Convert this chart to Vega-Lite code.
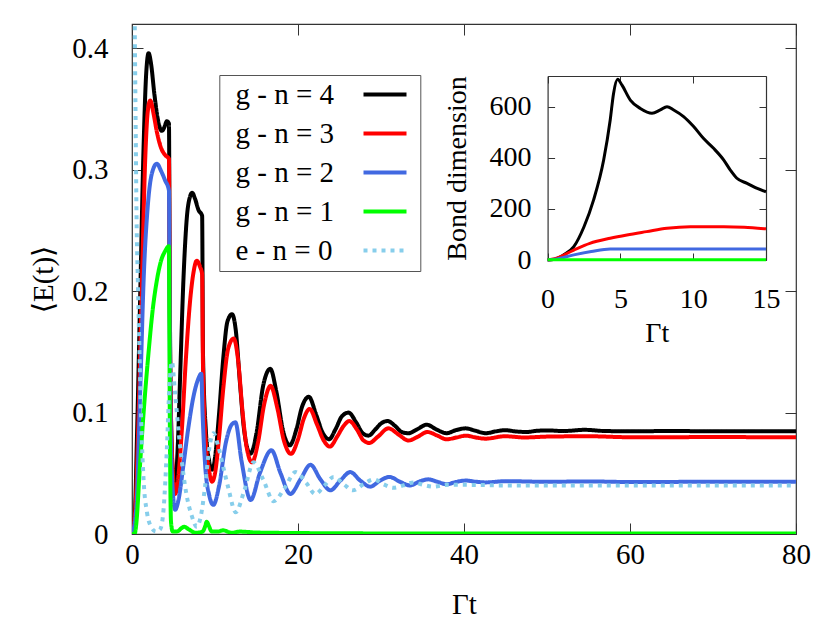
{
  "$schema": "https://vega.github.io/schema/vega-lite/v6.json",
  "width": 664,
  "height": 510,
  "autosize": {"type": "none"},
  "padding": {"left": 132, "top": 24, "right": 34, "bottom": 97},
  "datasets": {
    "main": [
      {"series": "g - n = 4", "t": 0, "E": 0}, {"series": "g - n = 4", "t": 0.3, "E": 0.01}, {"series": "g - n = 4", "t": 0.6, "E": 0.08},
      {"series": "g - n = 4", "t": 1.0, "E": 0.2}, {"series": "g - n = 4", "t": 1.4, "E": 0.32}, {"series": "g - n = 4", "t": 1.7, "E": 0.378},
      {"series": "g - n = 4", "t": 2.0, "E": 0.396}, {"series": "g - n = 4", "t": 2.3, "E": 0.387}, {"series": "g - n = 4", "t": 2.7, "E": 0.362},
      {"series": "g - n = 4", "t": 3.1, "E": 0.342}, {"series": "g - n = 4", "t": 3.6, "E": 0.332}, {"series": "g - n = 4", "t": 3.9, "E": 0.335},
      {"series": "g - n = 4", "t": 4.2, "E": 0.34}, {"series": "g - n = 4", "t": 4.45, "E": 0.338}, {"series": "g - n = 4", "t": 4.55, "E": 0.2},
      {"series": "g - n = 4", "t": 4.75, "E": 0.08}, {"series": "g - n = 4", "t": 5.0, "E": 0.045}, {"series": "g - n = 4", "t": 5.2, "E": 0.042},
      {"series": "g - n = 4", "t": 5.5, "E": 0.07}, {"series": "g - n = 4", "t": 5.8, "E": 0.13}, {"series": "g - n = 4", "t": 6.2, "E": 0.21},
      {"series": "g - n = 4", "t": 6.6, "E": 0.26}, {"series": "g - n = 4", "t": 7.0, "E": 0.278}, {"series": "g - n = 4", "t": 7.25, "E": 0.281},
      {"series": "g - n = 4", "t": 7.6, "E": 0.276}, {"series": "g - n = 4", "t": 8.0, "E": 0.267}, {"series": "g - n = 4", "t": 8.45, "E": 0.262},
      {"series": "g - n = 4", "t": 8.55, "E": 0.15}, {"series": "g - n = 4", "t": 8.9, "E": 0.085}, {"series": "g - n = 4", "t": 9.3, "E": 0.06},
      {"series": "g - n = 4", "t": 9.65, "E": 0.053}, {"series": "g - n = 4", "t": 10.0, "E": 0.063}, {"series": "g - n = 4", "t": 10.5, "E": 0.1},
      {"series": "g - n = 4", "t": 11.0, "E": 0.145}, {"series": "g - n = 4", "t": 11.5, "E": 0.175}, {"series": "g - n = 4", "t": 12.05, "E": 0.181},
      {"series": "g - n = 4", "t": 12.5, "E": 0.168}, {"series": "g - n = 4", "t": 13.0, "E": 0.125}, {"series": "g - n = 4", "t": 13.5, "E": 0.086},
      {"series": "g - n = 4", "t": 14.25, "E": 0.066}, {"series": "g - n = 4", "t": 15.0, "E": 0.083}, {"series": "g - n = 4", "t": 15.8, "E": 0.122},
      {"series": "g - n = 4", "t": 16.66, "E": 0.136}, {"series": "g - n = 4", "t": 17.4, "E": 0.117}, {"series": "g - n = 4", "t": 18.2, "E": 0.085},
      {"series": "g - n = 4", "t": 19.0, "E": 0.073}, {"series": "g - n = 4", "t": 19.8, "E": 0.086}, {"series": "g - n = 4", "t": 20.5, "E": 0.105},
      {"series": "g - n = 4", "t": 21.3, "E": 0.113}, {"series": "g - n = 4", "t": 22.2, "E": 0.098}, {"series": "g - n = 4", "t": 23.0, "E": 0.083},
      {"series": "g - n = 4", "t": 23.75, "E": 0.078}, {"series": "g - n = 4", "t": 24.5, "E": 0.086}, {"series": "g - n = 4", "t": 25.3, "E": 0.097},
      {"series": "g - n = 4", "t": 26.1, "E": 0.1}, {"series": "g - n = 4", "t": 27.0, "E": 0.092}, {"series": "g - n = 4", "t": 27.8, "E": 0.083},
      {"series": "g - n = 4", "t": 28.5, "E": 0.081}, {"series": "g - n = 4", "t": 29.3, "E": 0.086}, {"series": "g - n = 4", "t": 30.0, "E": 0.091},
      {"series": "g - n = 4", "t": 30.8, "E": 0.093}, {"series": "g - n = 4", "t": 31.7, "E": 0.089}, {"series": "g - n = 4", "t": 32.5, "E": 0.084},
      {"series": "g - n = 4", "t": 33.3, "E": 0.083}, {"series": "g - n = 4", "t": 34.3, "E": 0.086}, {"series": "g - n = 4", "t": 35.5, "E": 0.09},
      {"series": "g - n = 4", "t": 36.7, "E": 0.086}, {"series": "g - n = 4", "t": 37.9, "E": 0.083}, {"series": "g - n = 4", "t": 39.0, "E": 0.0855},
      {"series": "g - n = 4", "t": 40.2, "E": 0.087}, {"series": "g - n = 4", "t": 41.4, "E": 0.085}, {"series": "g - n = 4", "t": 42.6, "E": 0.083},
      {"series": "g - n = 4", "t": 43.8, "E": 0.0845}, {"series": "g - n = 4", "t": 44.9, "E": 0.0855}, {"series": "g - n = 4", "t": 46.2, "E": 0.0845},
      {"series": "g - n = 4", "t": 47.5, "E": 0.084}, {"series": "g - n = 4", "t": 48.8, "E": 0.085}, {"series": "g - n = 4", "t": 50, "E": 0.0853},
      {"series": "g - n = 4", "t": 52, "E": 0.0848}, {"series": "g - n = 4", "t": 54.5, "E": 0.0858}, {"series": "g - n = 4", "t": 57, "E": 0.0848},
      {"series": "g - n = 4", "t": 60, "E": 0.0846}, {"series": "g - n = 4", "t": 65, "E": 0.0848}, {"series": "g - n = 4", "t": 70, "E": 0.0846},
      {"series": "g - n = 4", "t": 75, "E": 0.0847}, {"series": "g - n = 4", "t": 80, "E": 0.0846},

      {"series": "g - n = 3", "t": 0, "E": 0}, {"series": "g - n = 3", "t": 0.4, "E": 0.02}, {"series": "g - n = 3", "t": 0.8, "E": 0.1},
      {"series": "g - n = 3", "t": 1.2, "E": 0.209}, {"series": "g - n = 3", "t": 1.6, "E": 0.31}, {"series": "g - n = 3", "t": 1.9, "E": 0.348},
      {"series": "g - n = 3", "t": 2.2, "E": 0.357}, {"series": "g - n = 3", "t": 2.6, "E": 0.346}, {"series": "g - n = 3", "t": 3.0, "E": 0.331},
      {"series": "g - n = 3", "t": 3.5, "E": 0.318}, {"series": "g - n = 3", "t": 4.0, "E": 0.312}, {"series": "g - n = 3", "t": 4.45, "E": 0.309},
      {"series": "g - n = 3", "t": 4.55, "E": 0.18}, {"series": "g - n = 3", "t": 4.8, "E": 0.07}, {"series": "g - n = 3", "t": 5.2, "E": 0.033},
      {"series": "g - n = 3", "t": 5.5, "E": 0.042}, {"series": "g - n = 3", "t": 6.0, "E": 0.085}, {"series": "g - n = 3", "t": 6.5, "E": 0.145},
      {"series": "g - n = 3", "t": 7.0, "E": 0.192}, {"series": "g - n = 3", "t": 7.4, "E": 0.215}, {"series": "g - n = 3", "t": 7.8, "E": 0.225},
      {"series": "g - n = 3", "t": 8.2, "E": 0.22}, {"series": "g - n = 3", "t": 8.45, "E": 0.214}, {"series": "g - n = 3", "t": 8.55, "E": 0.14},
      {"series": "g - n = 3", "t": 8.9, "E": 0.075}, {"series": "g - n = 3", "t": 9.3, "E": 0.052}, {"series": "g - n = 3", "t": 9.65, "E": 0.043},
      {"series": "g - n = 3", "t": 10.0, "E": 0.05}, {"series": "g - n = 3", "t": 10.5, "E": 0.08}, {"series": "g - n = 3", "t": 11.0, "E": 0.12},
      {"series": "g - n = 3", "t": 11.6, "E": 0.153}, {"series": "g - n = 3", "t": 12.25, "E": 0.161}, {"series": "g - n = 3", "t": 12.8, "E": 0.142},
      {"series": "g - n = 3", "t": 13.3, "E": 0.102}, {"series": "g - n = 3", "t": 13.8, "E": 0.072}, {"series": "g - n = 3", "t": 14.46, "E": 0.059},
      {"series": "g - n = 3", "t": 15.2, "E": 0.076}, {"series": "g - n = 3", "t": 15.9, "E": 0.106}, {"series": "g - n = 3", "t": 16.7, "E": 0.122},
      {"series": "g - n = 3", "t": 17.5, "E": 0.104}, {"series": "g - n = 3", "t": 18.3, "E": 0.077}, {"series": "g - n = 3", "t": 19.15, "E": 0.066},
      {"series": "g - n = 3", "t": 20.0, "E": 0.078}, {"series": "g - n = 3", "t": 20.7, "E": 0.095}, {"series": "g - n = 3", "t": 21.4, "E": 0.103},
      {"series": "g - n = 3", "t": 22.3, "E": 0.09}, {"series": "g - n = 3", "t": 23.1, "E": 0.077}, {"series": "g - n = 3", "t": 23.85, "E": 0.072},
      {"series": "g - n = 3", "t": 24.7, "E": 0.08}, {"series": "g - n = 3", "t": 25.5, "E": 0.089}, {"series": "g - n = 3", "t": 26.2, "E": 0.093},
      {"series": "g - n = 3", "t": 27.1, "E": 0.086}, {"series": "g - n = 3", "t": 27.9, "E": 0.077}, {"series": "g - n = 3", "t": 28.6, "E": 0.075},
      {"series": "g - n = 3", "t": 29.6, "E": 0.08}, {"series": "g - n = 3", "t": 30.9, "E": 0.087}, {"series": "g - n = 3", "t": 32.1, "E": 0.082},
      {"series": "g - n = 3", "t": 33.3, "E": 0.077}, {"series": "g - n = 3", "t": 34.4, "E": 0.08}, {"series": "g - n = 3", "t": 35.6, "E": 0.084},
      {"series": "g - n = 3", "t": 36.8, "E": 0.081}, {"series": "g - n = 3", "t": 37.9, "E": 0.078}, {"series": "g - n = 3", "t": 39.1, "E": 0.0795},
      {"series": "g - n = 3", "t": 40.2, "E": 0.081}, {"series": "g - n = 3", "t": 41.4, "E": 0.0795}, {"series": "g - n = 3", "t": 42.6, "E": 0.0785},
      {"series": "g - n = 3", "t": 44.9, "E": 0.0805}, {"series": "g - n = 3", "t": 47.3, "E": 0.0795}, {"series": "g - n = 3", "t": 50, "E": 0.0802},
      {"series": "g - n = 3", "t": 55, "E": 0.0805}, {"series": "g - n = 3", "t": 60, "E": 0.0797}, {"series": "g - n = 3", "t": 70, "E": 0.0798},
      {"series": "g - n = 3", "t": 80, "E": 0.0797},

      {"series": "g - n = 2", "t": 0, "E": 0}, {"series": "g - n = 2", "t": 0.5, "E": 0.02}, {"series": "g - n = 2", "t": 1.0, "E": 0.12},
      {"series": "g - n = 2", "t": 1.4, "E": 0.209}, {"series": "g - n = 2", "t": 1.9, "E": 0.27}, {"series": "g - n = 2", "t": 2.4, "E": 0.297},
      {"series": "g - n = 2", "t": 3.0, "E": 0.305}, {"series": "g - n = 2", "t": 3.5, "E": 0.299}, {"series": "g - n = 2", "t": 4.0, "E": 0.291},
      {"series": "g - n = 2", "t": 4.45, "E": 0.283}, {"series": "g - n = 2", "t": 4.55, "E": 0.16}, {"series": "g - n = 2", "t": 4.8, "E": 0.05},
      {"series": "g - n = 2", "t": 5.2, "E": 0.02}, {"series": "g - n = 2", "t": 5.6, "E": 0.028}, {"series": "g - n = 2", "t": 6.2, "E": 0.057},
      {"series": "g - n = 2", "t": 6.8, "E": 0.088}, {"series": "g - n = 2", "t": 7.4, "E": 0.113}, {"series": "g - n = 2", "t": 8.0, "E": 0.128},
      {"series": "g - n = 2", "t": 8.35, "E": 0.132}, {"series": "g - n = 2", "t": 8.5, "E": 0.1}, {"series": "g - n = 2", "t": 8.8, "E": 0.058},
      {"series": "g - n = 2", "t": 9.3, "E": 0.032}, {"series": "g - n = 2", "t": 9.8, "E": 0.024}, {"series": "g - n = 2", "t": 10.5, "E": 0.04},
      {"series": "g - n = 2", "t": 11.3, "E": 0.075}, {"series": "g - n = 2", "t": 12.0, "E": 0.09}, {"series": "g - n = 2", "t": 12.45, "E": 0.092},
      {"series": "g - n = 2", "t": 13.2, "E": 0.06}, {"series": "g - n = 2", "t": 14.3, "E": 0.028}, {"series": "g - n = 2", "t": 15.4, "E": 0.05},
      {"series": "g - n = 2", "t": 16.8, "E": 0.069}, {"series": "g - n = 2", "t": 17.9, "E": 0.05}, {"series": "g - n = 2", "t": 19.07, "E": 0.033},
      {"series": "g - n = 2", "t": 20.3, "E": 0.045}, {"series": "g - n = 2", "t": 21.5, "E": 0.057}, {"series": "g - n = 2", "t": 22.7, "E": 0.045},
      {"series": "g - n = 2", "t": 23.9, "E": 0.036}, {"series": "g - n = 2", "t": 25.1, "E": 0.044}, {"series": "g - n = 2", "t": 26.3, "E": 0.051},
      {"series": "g - n = 2", "t": 27.5, "E": 0.044}, {"series": "g - n = 2", "t": 28.7, "E": 0.039}, {"series": "g - n = 2", "t": 29.9, "E": 0.044},
      {"series": "g - n = 2", "t": 31.0, "E": 0.047}, {"series": "g - n = 2", "t": 32.3, "E": 0.043}, {"series": "g - n = 2", "t": 33.5, "E": 0.04},
      {"series": "g - n = 2", "t": 34.6, "E": 0.0432}, {"series": "g - n = 2", "t": 35.7, "E": 0.045}, {"series": "g - n = 2", "t": 36.8, "E": 0.043},
      {"series": "g - n = 2", "t": 37.9, "E": 0.041}, {"series": "g - n = 2", "t": 39.0, "E": 0.0428}, {"series": "g - n = 2", "t": 40.2, "E": 0.044},
      {"series": "g - n = 2", "t": 41.5, "E": 0.043}, {"series": "g - n = 2", "t": 42.6, "E": 0.0425}, {"series": "g - n = 2", "t": 45, "E": 0.0435},
      {"series": "g - n = 2", "t": 50, "E": 0.043}, {"series": "g - n = 2", "t": 55, "E": 0.0433}, {"series": "g - n = 2", "t": 60, "E": 0.0428},
      {"series": "g - n = 2", "t": 70, "E": 0.043}, {"series": "g - n = 2", "t": 80, "E": 0.043},

      {"series": "g - n = 1", "t": 0, "E": 0}, {"series": "g - n = 1", "t": 0.3, "E": 0}, {"series": "g - n = 1", "t": 0.6, "E": 0.015},
      {"series": "g - n = 1", "t": 0.85, "E": 0.044}, {"series": "g - n = 1", "t": 1.4, "E": 0.1}, {"series": "g - n = 1", "t": 2.0, "E": 0.15},
      {"series": "g - n = 1", "t": 2.5, "E": 0.185}, {"series": "g - n = 1", "t": 3.0, "E": 0.209}, {"series": "g - n = 1", "t": 3.5, "E": 0.225},
      {"series": "g - n = 1", "t": 4.0, "E": 0.233}, {"series": "g - n = 1", "t": 4.45, "E": 0.237}, {"series": "g - n = 1", "t": 4.55, "E": 0.1},
      {"series": "g - n = 1", "t": 4.7, "E": 0.01}, {"series": "g - n = 1", "t": 4.9, "E": 0.002}, {"series": "g - n = 1", "t": 5.4, "E": 0.002},
      {"series": "g - n = 1", "t": 6.0, "E": 0.005}, {"series": "g - n = 1", "t": 6.3, "E": 0.006}, {"series": "g - n = 1", "t": 6.8, "E": 0.004},
      {"series": "g - n = 1", "t": 7.7, "E": 0.001}, {"series": "g - n = 1", "t": 8.5, "E": 0.002}, {"series": "g - n = 1", "t": 8.8, "E": 0.006},
      {"series": "g - n = 1", "t": 9.0, "E": 0.01}, {"series": "g - n = 1", "t": 9.3, "E": 0.006}, {"series": "g - n = 1", "t": 9.6, "E": 0.002},
      {"series": "g - n = 1", "t": 10.3, "E": 0.002}, {"series": "g - n = 1", "t": 11.0, "E": 0.003}, {"series": "g - n = 1", "t": 12, "E": 0.001},
      {"series": "g - n = 1", "t": 13, "E": 0.002}, {"series": "g - n = 1", "t": 15, "E": 0.0012}, {"series": "g - n = 1", "t": 20, "E": 0.0008},
      {"series": "g - n = 1", "t": 30, "E": 0.0005}, {"series": "g - n = 1", "t": 80, "E": 0.0005},

      {"series": "e - n = 0", "t": 0, "E": 0.9}, {"series": "e - n = 0", "t": 0.3, "E": 0.45}, {"series": "e - n = 0", "t": 0.45, "E": 0.33},
      {"series": "e - n = 0", "t": 0.55, "E": 0.26}, {"series": "e - n = 0", "t": 0.7, "E": 0.21}, {"series": "e - n = 0", "t": 0.85, "E": 0.165},
      {"series": "e - n = 0", "t": 1.1, "E": 0.095}, {"series": "e - n = 0", "t": 1.4, "E": 0.044}, {"series": "e - n = 0", "t": 1.8, "E": 0.018},
      {"series": "e - n = 0", "t": 2.3, "E": 0.006}, {"series": "e - n = 0", "t": 2.9, "E": 0.002}, {"series": "e - n = 0", "t": 3.4, "E": 0.004},
      {"series": "e - n = 0", "t": 3.8, "E": 0.02}, {"series": "e - n = 0", "t": 4.2, "E": 0.07}, {"series": "e - n = 0", "t": 4.5, "E": 0.12},
      {"series": "e - n = 0", "t": 4.8, "E": 0.142}, {"series": "e - n = 0", "t": 5.2, "E": 0.115}, {"series": "e - n = 0", "t": 5.8, "E": 0.072},
      {"series": "e - n = 0", "t": 6.5, "E": 0.035}, {"series": "e - n = 0", "t": 7.2, "E": 0.015}, {"series": "e - n = 0", "t": 7.8, "E": 0.006},
      {"series": "e - n = 0", "t": 8.3, "E": 0.015}, {"series": "e - n = 0", "t": 8.8, "E": 0.039}, {"series": "e - n = 0", "t": 9.3, "E": 0.07},
      {"series": "e - n = 0", "t": 9.8, "E": 0.083}, {"series": "e - n = 0", "t": 10.4, "E": 0.072}, {"series": "e - n = 0", "t": 11.0, "E": 0.055},
      {"series": "e - n = 0", "t": 11.6, "E": 0.038}, {"series": "e - n = 0", "t": 12.5, "E": 0.018}, {"series": "e - n = 0", "t": 13.5, "E": 0.035},
      {"series": "e - n = 0", "t": 14.65, "E": 0.059}, {"series": "e - n = 0", "t": 15.8, "E": 0.045}, {"series": "e - n = 0", "t": 17.06, "E": 0.027},
      {"series": "e - n = 0", "t": 18.4, "E": 0.038}, {"series": "e - n = 0", "t": 19.7, "E": 0.051}, {"series": "e - n = 0", "t": 21.0, "E": 0.042},
      {"series": "e - n = 0", "t": 22.1, "E": 0.033}, {"series": "e - n = 0", "t": 23.2, "E": 0.04}, {"series": "e - n = 0", "t": 24.3, "E": 0.047},
      {"series": "e - n = 0", "t": 25.5, "E": 0.041}, {"series": "e - n = 0", "t": 26.6, "E": 0.036}, {"series": "e - n = 0", "t": 27.9, "E": 0.041},
      {"series": "e - n = 0", "t": 29.1, "E": 0.045}, {"series": "e - n = 0", "t": 30.3, "E": 0.041}, {"series": "e - n = 0", "t": 31.5, "E": 0.038},
      {"series": "e - n = 0", "t": 32.7, "E": 0.04}, {"series": "e - n = 0", "t": 33.9, "E": 0.0425}, {"series": "e - n = 0", "t": 35.1, "E": 0.0405},
      {"series": "e - n = 0", "t": 36.3, "E": 0.039}, {"series": "e - n = 0", "t": 38, "E": 0.0405}, {"series": "e - n = 0", "t": 40, "E": 0.0405},
      {"series": "e - n = 0", "t": 45, "E": 0.04}, {"series": "e - n = 0", "t": 80, "E": 0.04}
    ],
    "inset": [
      {"series": "g - n = 4", "t": 0, "D": 0}, {"series": "g - n = 4", "t": 0.5, "D": 3}, {"series": "g - n = 4", "t": 1.1, "D": 20},
      {"series": "g - n = 4", "t": 1.8, "D": 52}, {"series": "g - n = 4", "t": 2.5, "D": 130}, {"series": "g - n = 4", "t": 3.16, "D": 235},
      {"series": "g - n = 4", "t": 3.85, "D": 391}, {"series": "g - n = 4", "t": 4.3, "D": 548}, {"series": "g - n = 4", "t": 4.53, "D": 652},
      {"series": "g - n = 4", "t": 4.81, "D": 707}, {"series": "g - n = 4", "t": 5.1, "D": 685}, {"series": "g - n = 4", "t": 5.68, "D": 626},
      {"series": "g - n = 4", "t": 6.37, "D": 593}, {"series": "g - n = 4", "t": 7.17, "D": 574}, {"series": "g - n = 4", "t": 7.74, "D": 587},
      {"series": "g - n = 4", "t": 8.2, "D": 600}, {"series": "g - n = 4", "t": 8.66, "D": 587}, {"series": "g - n = 4", "t": 9.34, "D": 561},
      {"series": "g - n = 4", "t": 10.03, "D": 522}, {"series": "g - n = 4", "t": 10.7, "D": 476}, {"series": "g - n = 4", "t": 11.4, "D": 437},
      {"series": "g - n = 4", "t": 12.1, "D": 391}, {"series": "g - n = 4", "t": 12.55, "D": 352}, {"series": "g - n = 4", "t": 13.0, "D": 320},
      {"series": "g - n = 4", "t": 13.7, "D": 300}, {"series": "g - n = 4", "t": 14.4, "D": 280}, {"series": "g - n = 4", "t": 15, "D": 267},
      {"series": "g - n = 3", "t": 0, "D": 0}, {"series": "g - n = 3", "t": 0.5, "D": 5}, {"series": "g - n = 3", "t": 1.8, "D": 39},
      {"series": "g - n = 3", "t": 2.9, "D": 65}, {"series": "g - n = 3", "t": 4.3, "D": 85}, {"series": "g - n = 3", "t": 5.45, "D": 98},
      {"series": "g - n = 3", "t": 6.8, "D": 111}, {"series": "g - n = 3", "t": 8.2, "D": 124}, {"series": "g - n = 3", "t": 9.8, "D": 130},
      {"series": "g - n = 3", "t": 12.1, "D": 130}, {"series": "g - n = 3", "t": 13.5, "D": 128}, {"series": "g - n = 3", "t": 15, "D": 122},
      {"series": "g - n = 2", "t": 0, "D": 0}, {"series": "g - n = 2", "t": 0.5, "D": 3}, {"series": "g - n = 2", "t": 1.8, "D": 20},
      {"series": "g - n = 2", "t": 3.0, "D": 33}, {"series": "g - n = 2", "t": 4.3, "D": 43}, {"series": "g - n = 2", "t": 4.6, "D": 43},
      {"series": "g - n = 2", "t": 15, "D": 43},
      {"series": "g - n = 1", "t": 0, "D": 1}, {"series": "g - n = 1", "t": 15, "D": 1}
    ]
  },
  "layer": [
    {
      "data": {"name": "main"},
      "resolve": {"axis": {"x": "independent", "y": "independent"}},
      "layer": [
        {
          "mark": {"type": "line", "strokeWidth": 4, "clip": true, "interpolate": "monotone", "strokeCap": "butt"},
          "encoding": {
            "x": {
              "field": "t", "type": "quantitative",
              "scale": {"domain": [0, 80], "nice": false},
              "axis": {"orient": "bottom", "values": [0, 20, 40, 60, 80], "format": "d", "tickSize": -11, "labelPadding": 17, "labelFlush": false, "domain": false, "title": "Γt", "titlePadding": 21}
            },
            "y": {
              "field": "E", "type": "quantitative",
              "scale": {"domain": [0, 0.42], "nice": false},
              "axis": {"orient": "left", "values": [0, 0.1, 0.2, 0.3, 0.4], "format": "~g", "tickSize": -11, "labelPadding": 35, "domain": false, "title": "⟨E(t)⟩", "titlePadding": 13}
            },
            "color": {
              "field": "series", "type": "nominal",
              "scale": {"domain": ["g - n = 4", "g - n = 3", "g - n = 2", "g - n = 1", "e - n = 0"], "range": ["#000000", "#ff0000", "#4169e1", "#00ff00", "#87ceeb"]},
              "legend": {"title": " ", "orient": "none", "legendX": 87.3, "legendY": 51, "symbolType": "M-2.15,0H2.15"}
            },
            "strokeDash": {
              "field": "series", "type": "nominal",
              "scale": {"domain": ["g - n = 4", "g - n = 3", "g - n = 2", "g - n = 1", "e - n = 0"], "range": [[1, 0], [1, 0], [1, 0], [1, 0], [4, 5]]},
              "legend": {"title": " ", "orient": "none", "legendX": 87.3, "legendY": 51, "symbolType": "M-2.15,0H2.15"}
            }
          }
        },
        {
          "mark": {"type": "point", "opacity": 0},
          "encoding": {
            "x": {
              "field": "t", "type": "quantitative",
              "scale": {"domain": [0, 80], "nice": false},
              "axis": {"orient": "top", "values": [0, 20, 40, 60, 80], "tickSize": -11, "labels": false, "domain": false, "title": null}
            },
            "y": {
              "field": "E", "type": "quantitative",
              "scale": {"domain": [0, 0.42], "nice": false},
              "axis": {"orient": "right", "values": [0, 0.1, 0.2, 0.3, 0.4], "tickSize": -11, "labels": false, "domain": false, "title": null}
            }
          }
        }
      ]
    },
    {
      "data": {"name": "inset"},
      "resolve": {"axis": {"x": "independent", "y": "independent"}},
      "layer": [
        {
          "mark": {"type": "line", "strokeWidth": 3, "interpolate": "monotone"},
          "encoding": {
            "x": {
              "field": "t", "type": "quantitative",
              "scale": {"domain": [0, 15], "nice": false, "range": [415.6, 634]},
              "axis": {"orient": "bottom", "offset": -274, "values": [0, 5, 10, 15], "format": "d", "tickSize": -7, "labelPadding": 32, "labelFlush": false, "labelFontSize": 28, "titleFontSize": 28, "title": "Γt", "titlePadding": 6}
            },
            "y": {
              "field": "D", "type": "quantitative",
              "scale": {"domain": [0, 720], "nice": false, "range": [236, 52]},
              "axis": {"orient": "left", "offset": -415.6, "values": [0, 200, 400, 600], "format": "d", "tickSize": -7, "labelPadding": 23.6, "labelFontSize": 28, "titleFontSize": 28, "title": "Bond dimension", "titlePadding": 17}
            },
            "color": {
              "field": "series", "type": "nominal",
              "scale": {"domain": ["g - n = 4", "g - n = 3", "g - n = 2", "g - n = 1", "e - n = 0"], "range": ["#000000", "#ff0000", "#4169e1", "#00ff00", "#87ceeb"]},
              "legend": {"title": " ", "orient": "none", "legendX": 87.3, "legendY": 51, "symbolType": "M-2.15,0H2.15"}
            }
          }
        },
        {
          "mark": {"type": "point", "opacity": 0},
          "encoding": {
            "x": {
              "field": "t", "type": "quantitative",
              "scale": {"domain": [0, 15], "nice": false, "range": [415.6, 634]},
              "axis": {"orient": "top", "offset": -52, "values": [0, 5, 10, 15], "tickSize": -7, "labels": false, "title": null}
            },
            "y": {
              "field": "D", "type": "quantitative",
              "scale": {"domain": [0, 720], "nice": false, "range": [236, 52]},
              "axis": {"orient": "right", "offset": -30, "values": [0, 200, 400, 600], "tickSize": -7, "labels": false, "title": null}
            }
          }
        }
      ]
    }
  ],
  "resolve": {"scale": {"x": "independent", "y": "independent"}},
  "config": {
    "font": "Liberation Serif, DejaVu Serif, serif",
    "view": {"stroke": "#333333", "strokeWidth": 1.2},
    "axis": {
      "labelFont": "Liberation Serif, DejaVu Serif, serif", "titleFont": "Liberation Serif, DejaVu Serif, serif",
      "labelFontSize": 29, "titleFontSize": 29, "titleFontWeight": "normal",
      "labelColor": "#000000", "titleColor": "#000000",
      "domainColor": "#333333", "tickColor": "#333333", "domainWidth": 1.2, "tickWidth": 1,
      "grid": false
    },
    "legend": {
      "labelFont": "Liberation Serif, DejaVu Serif, serif", "labelFontSize": 29, "labelColor": "#000000", "labelLimit": 400,
      "symbolSize": 400, "symbolStrokeWidth": 4,
      "rowPadding": 9, "padding": 5, "strokeColor": "#555555",
      "labelOffset": -164, "symbolOffset": 137.2,
      "titleOrient": "left", "titleFontSize": 1, "titlePadding": 9, "titleColor": "#ffffff"
    }
  }
}
